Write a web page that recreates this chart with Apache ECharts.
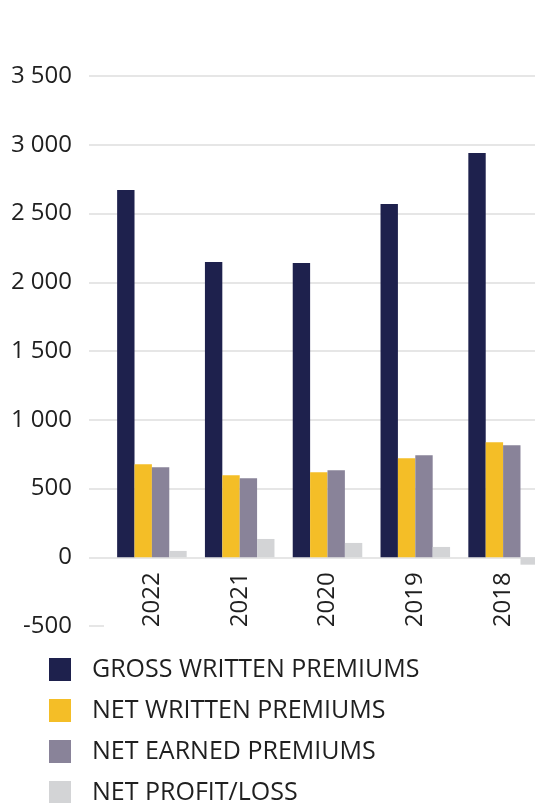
<!DOCTYPE html>
<html>
<head>
<meta charset="utf-8">
<script src="https://cdn.jsdelivr.net/npm/echarts@6/dist/echarts.min.js"></script>
<style>
  html, body { margin: 0; padding: 0; background: #fff; }
  #chart { width: 535px; height: 803px; }
</style>
</head>
<body>
<div id="chart"></div>
<script>
const years = ['2022', '2021', '2020', '2019', '2018']
const grossWritten = [2671, 2147, 2140, 2569, 2940]
const netWritten = [677, 597, 619, 720, 837]
const netEarned = [655, 575, 633, 742, 815]
const netProfit = [46, 133, 104, 75, -54]
const yTicks = { min: -500, max: 3500, step: 500 }

const chart = echarts.init(document.getElementById('chart'))

const font = 'Open Sans'
const textColor = '#1f1f1f'
const gridColor = '#e6e6e6'
const gridTop = 76
const gridBottom = 177
const plotHeight = 803 - gridTop - gridBottom

// year labels hang from the zero line, not from the bottom of the plot
const zeroOffset = -(0 - yTicks.min) / (yTicks.max - yTicks.min) * plotHeight

// first split line (-500) is hidden, only a short stub is drawn below
const lineColors = [];
for (let v = yTicks.min; v <= yTicks.max; v += yTicks.step) {
  lineColors.push(v === yTicks.min ? 'rgba(0,0,0,0)' : gridColor)
}

const barSeries = (name, data, color) => ({
  name: name,
  type: 'bar',
  xAxisIndex: 1,
  yAxisIndex: 1,
  data: data,
  barWidth: '19.8%',
  barGap: '0%',
  itemStyle: { color: color }
})

const option = {
  animation: false,
  grid: [
    { left: 89, right: -12, top: gridTop, bottom: gridBottom, outerBoundsMode: 'none' },
    { left: 108, right: -12, top: gridTop, bottom: gridBottom, outerBoundsMode: 'none' }
  ],
  xAxis: [
    { type: 'value', gridIndex: 0, show: false },
    {
      type: 'category',
      gridIndex: 1,
      data: years,
      offset: zeroOffset,
      axisLine: { show: false, onZero: false },
      axisTick: { show: false },
      axisLabel: {
        rotate: 90,
        margin: 15,
        fontSize: 24,
        fontFamily: font,
        color: textColor
      }
    }
  ],
  yAxis: [
    {
      type: 'value',
      gridIndex: 0,
      min: yTicks.min,
      max: yTicks.max,
      interval: yTicks.step,
      axisLine: { show: false },
      axisTick: { show: false },
      axisLabel: {
        margin: 17,
        fontSize: 24,
        fontFamily: font,
        color: textColor,
        padding: [0, 0, 8, 0],
        formatter: v => String(v).replace(/\B(?=(\d{3})+(?!\d))/g, ' ')
      },
      splitLine: { lineStyle: { color: lineColors, width: 2 } }
    },
    {
      type: 'value',
      gridIndex: 1,
      min: yTicks.min,
      max: yTicks.max,
      interval: yTicks.step,
      axisLine: { show: false },
      axisTick: { show: false },
      axisLabel: { show: false },
      splitLine: { show: false }
    }
  ],
  legend: {
    orient: 'vertical',
    left: 49,
    top: 657,
    height: 300,
    padding: 0,
    icon: 'rect',
    itemWidth: 22,
    itemHeight: 23,
    itemGap: 16,
    textStyle: {
      fontSize: 25,
      lineHeight: 21,
      fontFamily: font,
      color: textColor,
      padding: [0, 0, 0, 16]
    }
  },
  graphic: [
    {
      type: 'line',
      shape: { x1: 89, y1: 626, x2: 104, y2: 626 },
      style: { stroke: gridColor, lineWidth: 2 }
    }
  ],
  series: [
    barSeries('GROSS WRITTEN PREMIUMS', grossWritten, '#1e214d'),
    barSeries('NET WRITTEN PREMIUMS', netWritten, '#f4be27'),
    barSeries('NET EARNED PREMIUMS', netEarned, '#898399'),
    barSeries('NET PROFIT/LOSS', netProfit, '#d3d4d6')
  ]
}

chart.setOption(option)
</script>
</body>
</html>
